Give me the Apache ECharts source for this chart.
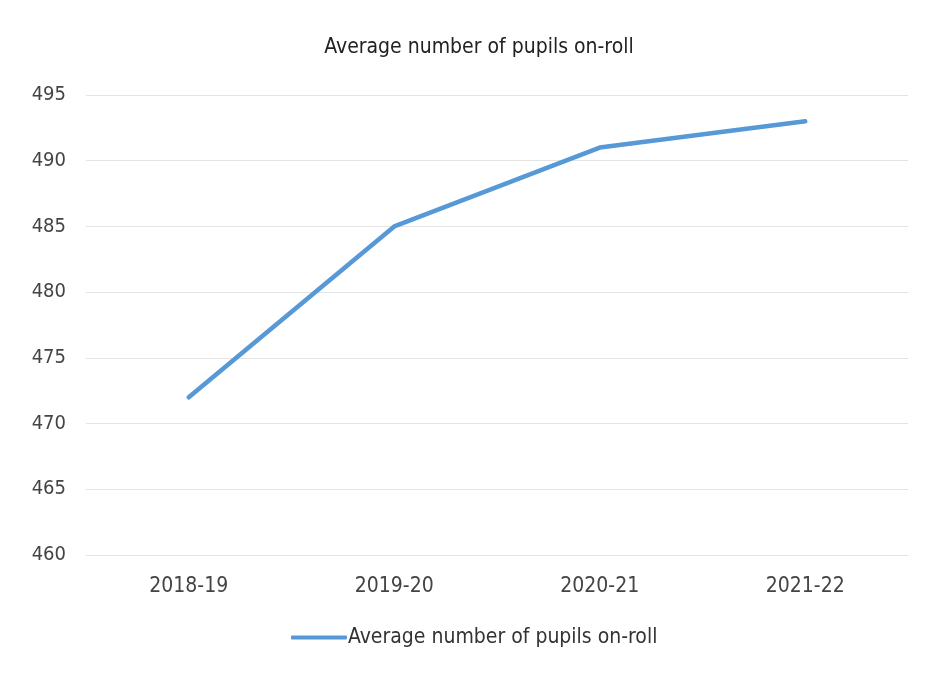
<!DOCTYPE html>
<html>
<head>
<meta charset="utf-8">
<script src="https://cdn.jsdelivr.net/npm/echarts@6/dist/echarts.min.js"></script>
<style>
  html, body { margin: 0; padding: 0; background: #fff; }
  #chart { width: 926px; height: 675px; }
</style>
</head>
<body>
<div id="chart"></div>
<script>
// School years and average pupils on roll
const years = ['2018-19', '2019-20', '2020-21', '2021-22'];
const pupilsOnRoll = [472, 485, 491, 493];
const seriesName = 'Average number of pupils on-roll';

const font = '"Liberation Sans Narrow", "DejaVu Sans Condensed", "Open Sans", sans-serif';

const chart = echarts.init(document.getElementById('chart'));
chart.setOption({
  backgroundColor: '#ffffff',
  animation: false,
  title: {
    text: seriesName,
    left: 474,
    textAlign: 'center',
    top: 32,
    textStyle: { fontFamily: font, fontSize: 21, fontWeight: 'normal', color: '#222' }
  },
  legend: {
    bottom: 22,
    left: 286,
    itemWidth: 56,
    itemHeight: 4,
    itemGap: 0,
    icon: 'roundRect',
    textStyle: { fontFamily: font, fontSize: 21, color: '#333', padding: [0, 0, 0, -4] },
    data: [seriesName]
  },
  grid: { left: 86, right: 18, top: 95, bottom: 120, containLabel: false },
  xAxis: {
    type: 'category',
    data: years,
    boundaryGap: true,
    axisLine: { show: false },
    axisTick: { show: false },
    axisLabel: { fontFamily: font, fontSize: 21, color: '#444', margin: 21 }
  },
  yAxis: {
    type: 'value',
    min: 460,
    max: 495,
    interval: 5,
    axisLine: { show: false },
    axisTick: { show: false },
    axisLabel: { fontFamily: font, fontSize: 20, color: '#444', margin: 20 },
    splitLine: { lineStyle: { color: '#e4e4e4', width: 1 } }
  },
  series: [{
    name: seriesName,
    type: 'line',
    data: pupilsOnRoll,
    showSymbol: false,
    symbol: 'none',
    lineStyle: { color: '#5699d6', width: 4.5, cap: 'round', join: 'round' },
    itemStyle: { color: '#5699d6' }
  }]
});
</script>
</body>
</html>
